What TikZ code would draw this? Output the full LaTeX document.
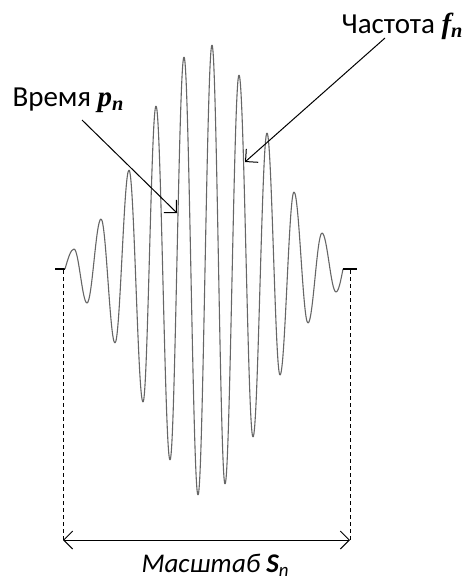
\documentclass[tikz,border=0pt]{standalone}
\usepackage{fontspec}
\setmainfont{Carlito}
\newfontfamily\serifsym{Liberation Serif}
\usetikzlibrary{arrows.meta}
\newcommand{\wsym}[2]{{\serifsym\bfseries\itshape #1}\textsubscript{\serifsym\bfseries\itshape #2}}

\begin{document}
\begin{tikzpicture}[x=0.5pt,y=-0.5pt,line width=0.5pt,
  >={Straight Barb[length=4.5pt,width=9pt]},
  wave/.style={line width=0.55pt,draw=black!60},
  dim/.style={line width=0.5pt,dash pattern=on 2pt off 1.5pt},
  lbl/.style={font=\fontsize{14.5}{16}\selectfont,inner sep=0pt,anchor=base west}]
\useasboundingbox (0,0) rectangle (468,578);
% вейвлет: полуволны между экстремумами
\draw[line width=0.6pt] (55,269) -- (65,269);
\draw[wave] (65,269) sin (74,249);
\foreach \x/\y [remember=\x as \xo (initially 74),remember=\y as \yo (initially 249)]
 in {87/303,101/219,115/343,129/170,143/402,156/106,170/460,184/57,198/495,
     212/45,225/484,239/75,253/437,267/133,280/375,294/192,308/323,322/233,336/292}{
  \draw[wave] (\xo,\yo) cos ({(\xo+\x)/2},{(\yo+\y)/2}) sin (\x,\y);
}
\draw[wave] (336,292) cos (343,269);
\draw[line width=0.6pt] (343,269) -- (357,269);
% подписи и стрелки
\node[lbl] (tlab) at (12,106) {Время \wsym{p}{n}};
\coordinate (tbeg) at (82,120);
\coordinate (ttip) at (177,213);
\draw[->] (tbeg) -- (ttip);
\node[lbl,anchor=base east] (flab) at (464,33) {Частота \wsym{f}{n}};
\coordinate (fbeg) at (385,38);
\coordinate (ftip) at (245,162);
\draw[->] (fbeg) -- (ftip);
% масштаб
\coordinate (wl) at (63,270);
\coordinate (wr) at (350,270);
\coordinate (sl) at (63,540);
\coordinate (sr) at (350,540);
\draw[dim] (wl) -- (sl);
\draw[dim] (wr) -- (sr);
\draw[<->] (sl) -- (sr);
\node[lbl,font=\fontsize{13.5}{15}\selectfont] (slab) at (141,572)
  {\itshape Масштаб {\bfseries S}\textsubscript{n}};
\end{tikzpicture}
\end{document}
